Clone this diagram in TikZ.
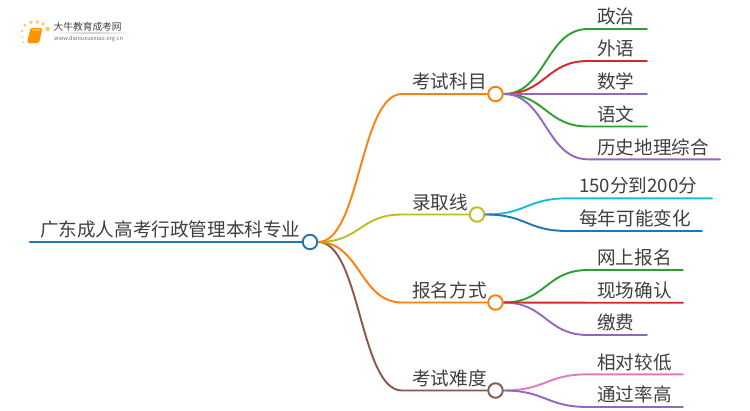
\documentclass[tikz,border=0pt]{standalone}
\usepackage{fontspec}
\setmainfont{Noto Sans CJK SC}
\definecolor{cblue}{HTML}{1F77B4}
\definecolor{corange}{HTML}{FF7F0E}
\definecolor{cgreen}{HTML}{2CA02C}
\definecolor{cred}{HTML}{D62728}
\definecolor{cpurple}{HTML}{9467BD}
\definecolor{cbrown}{HTML}{8C564B}
\definecolor{cpink}{HTML}{E377C2}
\definecolor{colive}{HTML}{BCBD22}
\definecolor{ccyan}{HTML}{17BECF}
\definecolor{ctext}{HTML}{3F3F3F}
\definecolor{cdot}{HTML}{FBC96B}
\tikzset{
  x=1pt,y=-1pt,
  hub/.style={circle,draw=#1,line width=1.9pt,fill=white,minimum size=14.5pt,inner sep=0pt},
  wire/.style={draw=#1,line width=1.9pt,line cap=round},
  label/.style={anchor=west,inner sep=0pt,text=ctext,font=\fontsize{18.6}{20}\selectfont},
  sun/.style={circle,fill=cdot,inner sep=0pt,minimum size=#1},
}
\newcommand{\bcurve}[4]{\draw[wire=#1] (#2.east) .. controls +(42,0) and +(-42,0) .. (#3) -- (#4);}
\newcommand{\lcurve}[4]{\draw[wire=#1] (#2.east) .. controls +(42,0) and +(-42,0) .. (#3) -- (#4);}
\begin{document}
\begin{tikzpicture}
\useasboundingbox (0,0) rectangle (750,410);
\fill[white] (0,0) rectangle (750,410);
% logo
\shade[left color=white,right color=white,middle color=black!18] (52,32.8) rectangle (134,33.5);
\node[sun=2.6pt] (d1) at (22,31) {};
\node[sun=1.8pt] (d2) at (22,37) {};
\node[sun=3pt] (d3) at (25,25) {};
\node[sun=3.8pt] (d4) at (31,22.3) {};
\node[sun=3.8pt] (d5) at (37.3,22) {};
\node[sun=3.8pt] (d6) at (43,24) {};
\node[sun=4.6pt] (d7) at (47.5,29) {};
\node[sun=1.8pt] (d8) at (23.3,42.3) {};
\fill[orange!85!yellow,rounded corners=1.5pt] (30.5,28) -- (42.5,28) -- (39,43) -- (27,43) -- cycle;
\fill[cdot] (32.5,29.3) -- (41,29.3) -- (40.6,30.6) -- (32.2,30.6) -- cycle;
\node[anchor=west,inner sep=0pt,text=black!75,font=\fontsize{9.7}{10}\selectfont] (brand) at (53.5,27) {大牛教育成考网};
\node[anchor=west,inner sep=0pt,text=black!55,font=\fontsize{5.7}{7}\selectfont] (site) at (54,39) {www.daniuxuexiao.org.cn};

% coordinates
\coordinate (rs) at (30,242);
\coordinate (k1) at (402,94);   \coordinate (k2) at (402,214.5);
\coordinate (k3) at (402,302.5);\coordinate (k4) at (402,390.5);
\node[hub=cblue,draw=none,fill=none] (root) at (310,242) {};
\node[hub=corange,draw=none,fill=none] (h1) at (495.5,94) {};
\node[hub=colive,draw=none,fill=none] (h2) at (477,214.5) {};
\node[hub=corange,draw=none,fill=none] (h3) at (495.5,302.5) {};
\node[hub=cbrown,draw=none,fill=none] (h4) at (495.5,390.5) {};

% leaf coordinates
\foreach \n/\x/\y/\e in {a/588/29/647,b/588/61/647,c/588/94/647,d/588/126.5/647,e/588/159.3/720,
  f/568/198.3/712,g/568/231/702,
  i/588/270/683,j/588/302.7/683,l/588/335/647,
  m/588/374.3/683,o/588/407/683}{
  \coordinate (\n) at (\x,\y);
  \coordinate (\n e) at (\e,\y);
}

% root line and main branches
\draw[wire=cblue,line width=2.9pt] (rs) -- (root);
\bcurve{cbrown}{root}{k4}{h4}
\bcurve{corange}{root}{k3}{h3}
\bcurve{colive}{root}{k2}{h2}
\bcurve{corange}{root}{k1}{h1}

% leaves
\lcurve{cgreen}{h1}{a}{ae}
\lcurve{cred}{h1}{b}{be}
\lcurve{cgreen}{h1}{d}{de}
\lcurve{cpurple}{h1}{e}{ee}
\lcurve{cpurple}{h1}{c}{ce}
\lcurve{ccyan}{h2}{f}{fe}
\lcurve{cblue}{h2}{g}{ge}
\lcurve{cgreen}{h3}{i}{ie}
\lcurve{cpurple}{h3}{l}{le}
\lcurve{cred}{h3}{j}{je}
\lcurve{cpink}{h4}{m}{me}
\lcurve{cpurple}{h4}{o}{oe}

% hubs
\node[hub=cblue] at (root) {};
\node[hub=corange] at (h1) {};
\node[hub=colive] at (h2) {};
\node[hub=corange] at (h3) {};
\node[hub=cbrown] at (h4) {};

% labels
\node[label] (troot) at (40,229.5) {广东成人高考行政管理本科专业};
\node[label] (t1) at (412,81.5) {考试科目};
\node[label] (t2) at (412,202) {录取线};
\node[label] (t3) at (412,290) {报名方式};
\node[label] (t4) at (412,378) {考试难度};
\node[label] (ta) at (597,16.5) {政治};
\node[label] (tb) at (597,48.5) {外语};
\node[label] (tc) at (597,81.5) {数学};
\node[label] (td) at (597,114) {语文};
\node[label] (te) at (597,147) {历史地理综合};
\node[label] (tf) at (579,186) {150分到200分};
\node[label] (tg) at (579,218.5) {每年可能变化};
\node[label] (ti) at (597,257.5) {网上报名};
\node[label] (tj) at (597,290) {现场确认};
\node[label] (tl) at (597,322.5) {缴费};
\node[label] (tm) at (597,362) {相对较低};
\node[label] (to) at (597,394.5) {通过率高};
\end{tikzpicture}
\end{document}
